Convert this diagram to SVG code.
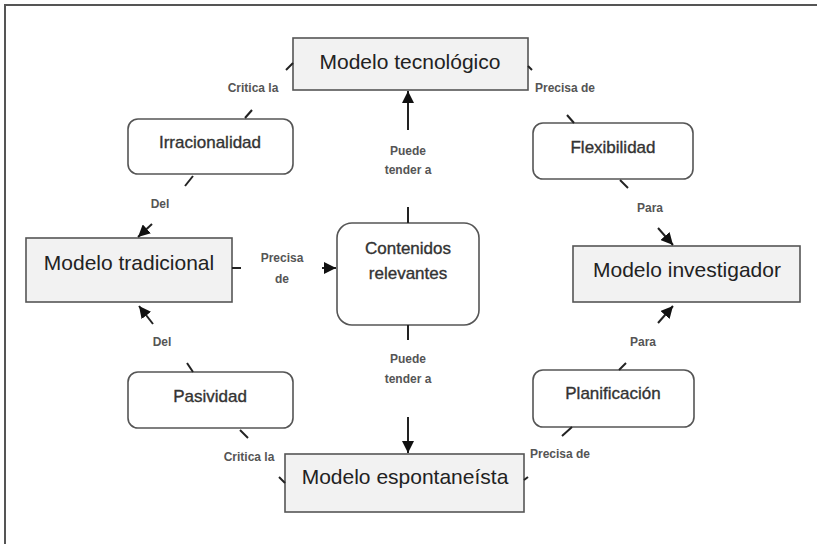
<svg xmlns="http://www.w3.org/2000/svg" width="817" height="544" viewBox="0 0 817 544">
<defs>
<marker id="ah" viewBox="0 0 10 10" refX="10" refY="5" markerWidth="6" markerHeight="6" orient="auto" markerUnits="strokeWidth">
<path d="M0,0 L10,5 L0,10 z" fill="#111"/>
</marker>
<style>
.main{fill:#f2f2f2;stroke:#555;stroke-width:1.6}
.rnd{fill:#fff;stroke:#555;stroke-width:1.6}
.mt{font-family:"Liberation Sans",Arial,sans-serif;font-size:21px;fill:#222;text-anchor:middle}
.nt{font-family:"Liberation Sans",Arial,sans-serif;font-size:17px;fill:#333;stroke:#333;stroke-width:0.35;text-anchor:middle}
.lb{font-family:"Liberation Sans",Arial,sans-serif;font-size:12px;font-weight:bold;fill:#555;text-anchor:middle}
.ln{stroke:#222;stroke-width:2;fill:none}
.ar{stroke:#222;stroke-width:2;fill:none;marker-end:url(#ah)}
</style>
</defs>
<rect width="817" height="544" fill="#fff"/>
<path d="M5,544 V5 H817" fill="none" stroke="#555" stroke-width="2"/>

<g id="tecnologico">
<rect class="main" x="293" y="38" width="235" height="52"/>
<text class="mt" x="410" y="69">Modelo tecnológico</text>
</g>
<g id="tradicional">
<rect class="main" x="26" y="238" width="206" height="64"/>
<text class="mt" x="129" y="270">Modelo tradicional</text>
</g>
<g id="investigador">
<rect class="main" x="573" y="246" width="227" height="56"/>
<text class="mt" x="687" y="277">Modelo investigador</text>
</g>
<g id="espontaneista">
<rect class="main" x="285" y="454" width="239" height="58"/>
<text class="mt" x="405" y="484">Modelo espontaneísta</text>
</g>
<g id="contenidos">
<rect class="rnd" x="337" y="223" width="142" height="102" rx="15"/>
<text class="nt" x="408" y="254">Contenidos</text>
<text class="nt" x="408" y="279">relevantes</text>
</g>
<g id="irracionalidad">
<rect class="rnd" x="128" y="119" width="165" height="55" rx="10"/>
<text class="nt" x="210" y="148">Irracionalidad</text>
</g>
<g id="pasividad">
<rect class="rnd" x="128" y="372" width="165" height="56" rx="10"/>
<text class="nt" x="210" y="402">Pasividad</text>
</g>
<g id="flexibilidad">
<rect class="rnd" x="533" y="123" width="160" height="56" rx="10"/>
<text class="nt" x="613" y="153">Flexibilidad</text>
</g>
<g id="planificacion">
<rect class="rnd" x="533" y="370" width="161" height="57" rx="10"/>
<text class="nt" x="613" y="399">Planificación</text>
</g>

<g id="connectors">
<line class="ln" x1="408" y1="207" x2="408" y2="223"/>
<line class="ar" x1="408" y1="130" x2="408" y2="91"/>
<text class="lb" x="408" y="155">Puede</text>
<text class="lb" x="408" y="174">tender a</text>
<line class="ln" x1="408" y1="325" x2="408" y2="340"/>
<line class="ar" x1="408" y1="417" x2="408" y2="453"/>
<text class="lb" x="408" y="363">Puede</text>
<text class="lb" x="408" y="383">tender a</text>
<line class="ln" x1="232" y1="268" x2="241" y2="268"/>
<line class="ar" x1="322" y1="268" x2="336" y2="268"/>
<text class="lb" x="282" y="262">Precisa</text>
<text class="lb" x="282" y="283">de</text>
<line class="ln" x1="293" y1="63" x2="286" y2="70"/>
<line class="ln" x1="252" y1="110" x2="245" y2="118"/>
<text class="lb" x="253" y="92">Critica la</text>
<line class="ln" x1="193" y1="176" x2="185" y2="186"/>
<line class="ar" x1="152" y1="224" x2="138" y2="237"/>
<text class="lb" x="160" y="208">Del</text>
<line class="ln" x1="528" y1="66" x2="532" y2="70"/>
<line class="ln" x1="567" y1="115" x2="574" y2="123"/>
<text class="lb" x="565" y="92">Precisa de</text>
<line class="ln" x1="620" y1="180" x2="628" y2="188"/>
<line class="ar" x1="658" y1="228" x2="673" y2="245"/>
<text class="lb" x="650" y="212">Para</text>
<line class="ln" x1="285" y1="483" x2="279" y2="477"/>
<line class="ln" x1="248" y1="438" x2="240" y2="430"/>
<text class="lb" x="249" y="461">Critica la</text>
<line class="ln" x1="193" y1="372" x2="187" y2="363"/>
<line class="ar" x1="153" y1="324" x2="139" y2="306"/>
<text class="lb" x="162" y="346">Del</text>
<line class="ln" x1="524" y1="480" x2="528" y2="477"/>
<line class="ln" x1="562" y1="436" x2="572" y2="427"/>
<text class="lb" x="560" y="458">Precisa de</text>
<line class="ln" x1="619" y1="370" x2="626" y2="363"/>
<line class="ar" x1="658" y1="323" x2="673" y2="306"/>
<text class="lb" x="643" y="346">Para</text>
</g>
</svg>
